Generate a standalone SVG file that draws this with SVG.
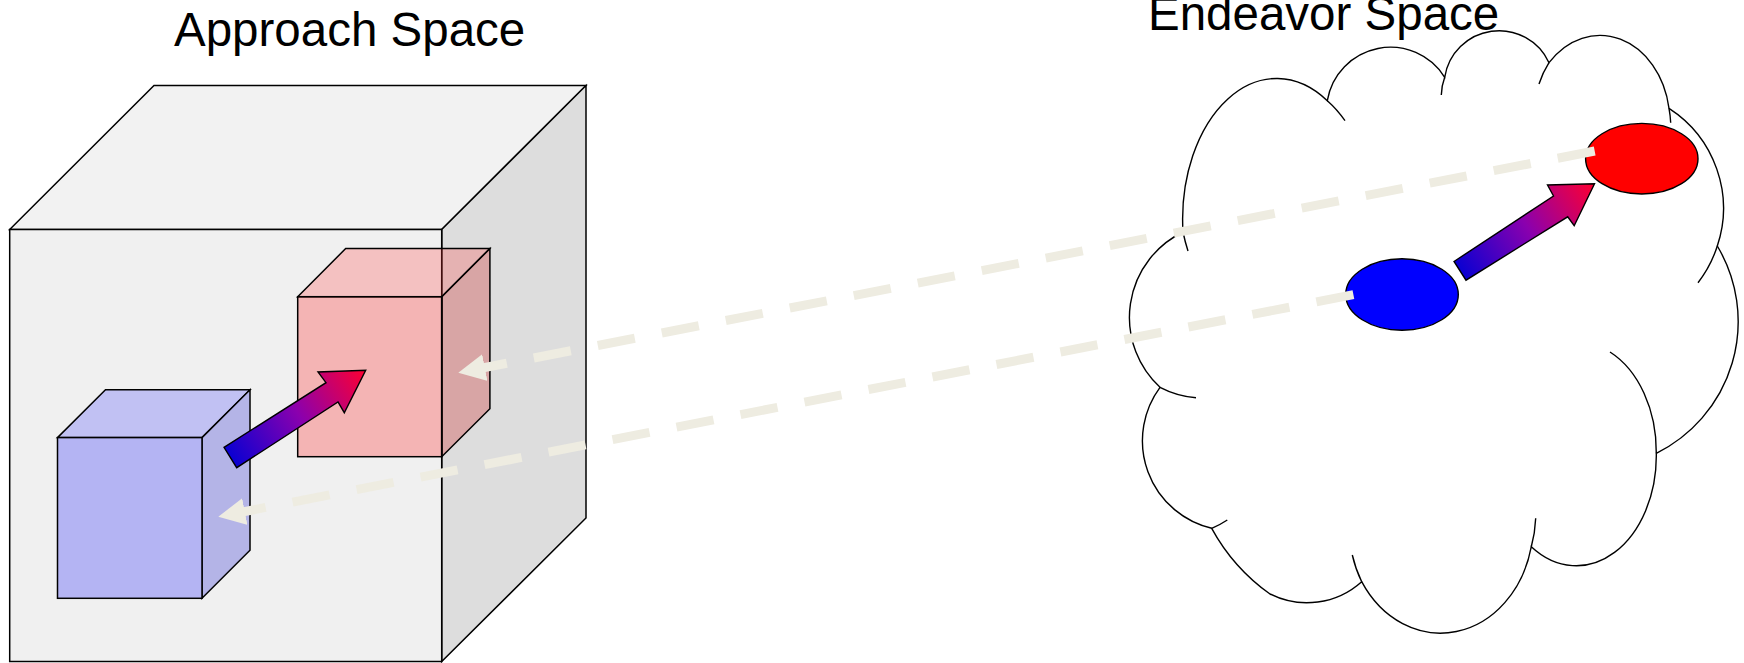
<svg xmlns="http://www.w3.org/2000/svg" width="1744" height="663" viewBox="0 0 1744 663">
  <style>
    .edge { stroke: #000; stroke-width: 1.5; stroke-linejoin: miter; }
    .cloud { fill: none; stroke: #000; stroke-width: 1.4; }
    .label { font-family: "Liberation Sans", Arial, sans-serif; font-size: 47.5px; fill: #000; }
    .conn { fill: none; stroke: #eeece1; stroke-width: 9; stroke-dasharray: 37.7 27.5; stroke-linecap: butt; }
    .garrow { stroke: #000; stroke-width: 1.4; stroke-linejoin: miter; }
  </style>
  <defs>
    <marker id="head" markerUnits="userSpaceOnUse" viewBox="-27 -13.5 27 27" refX="0" refY="0" markerWidth="27" markerHeight="27" orient="auto">
      <path d="M0,0 L-27,-13.5 L-27,13.5 Z" fill="#eeece1"/>
    </marker>
    <linearGradient id="gradL" gradientUnits="userSpaceOnUse" x1="230.3" y1="457.5" x2="365.7" y2="370.3">
      <stop offset="0" stop-color="#0a00d2"/>
      <stop offset="0.5" stop-color="#8a00ae"/>
      <stop offset="1" stop-color="#ff0030"/>
    </linearGradient>
    <linearGradient id="gradR" gradientUnits="userSpaceOnUse" x1="1460" y1="271" x2="1594.5" y2="183.7">
      <stop offset="0" stop-color="#0a00d2"/>
      <stop offset="0.5" stop-color="#8a00ae"/>
      <stop offset="1" stop-color="#ff0030"/>
    </linearGradient>
  </defs>

  <g id="approach-cube">
    <polygon class="edge" fill="#f2f2f2" points="9.7,229.5 154,85.5 586,85.5 441.7,229.5"/>
    <polygon class="edge" fill="#dddddd" points="441.7,229.5 586,85.5 586,518 441.7,661.5"/>
    <rect class="edge" fill="#f0f0f0" x="9.7" y="229.5" width="432" height="432"/>
  </g>

  <g id="red-cube">
    <polygon class="edge" fill="#ff3333" fill-opacity="0.25" points="297.7,296.7 345.7,248.5 489.9,248.5 441.7,296.7"/>
    <polygon class="edge" fill="#cc0000" fill-opacity="0.25" points="441.7,296.7 489.9,248.5 489.9,408.7 441.7,456.7"/>
    <rect class="edge" fill="#ff0000" fill-opacity="0.25" x="297.7" y="296.7" width="144" height="160"/>
  </g>

  <g id="blue-cube">
    <polygon class="edge" fill="#c1c1f3" points="57.5,437.6 105.5,389.8 250,389.8 202,437.6"/>
    <polygon class="edge" fill="#b4b4e7" points="202,437.6 250,389.8 250,550.3 202,598.3"/>
    <rect class="edge" fill="#b4b4f3" x="57.5" y="437.6" width="144.5" height="160.7"/>
  </g>

  <g id="approach-arrow">
    <polygon class="garrow" fill="url(#gradL)" points="224,447.3 326,382.7 318,372 365.7,370.3 344.3,412.7 338,402 236.7,467.7"/>
  </g>

  <g id="endeavor-cloud">
    <path fill="#ffffff" stroke="#000" stroke-width="1.4" d="M1183,232
      A94,141 0 0 1 1327.3,100.7
      A64,64 0 0 1 1444.7,77.3
      A55,55 0 0 1 1549,62.7
      A70,87 0 0 1 1669,108.3
      A119,119 0 0 1 1717.3,246
      A147,147 0 0 1 1656.3,453.3
      A80,110 0 0 1 1531.3,546.7
      A93,110 0 0 1 1361.7,581.7
      A82,82 0 0 1 1270,594
      A196,196 0 0 1 1211.7,528.3
      A90,90 0 0 1 1160,387.3
      A95,95 0 0 1 1183,232 Z"/>
    <path class="cloud" d="M1188,251 A94,141 0 0 1 1183,232"/>
    <path class="cloud" d="M1327.3,100.7 A94,141 0 0 1 1345,120.7"/>
    <path class="cloud" d="M1441.3,95 A55,55 0 0 1 1444.7,77.3"/>
    <path class="cloud" d="M1539,84 A70,87 0 0 1 1549,62.7"/>
    <path class="cloud" d="M1669,108.3 A70,87 0 0 1 1670.7,122.7"/>
    <path class="cloud" d="M1717.3,246 A119,119 0 0 1 1698,282.7"/>
    <path class="cloud" d="M1610,352 A80,110 0 0 1 1656.3,453.3"/>
    <path class="cloud" d="M1535.7,518.3 A93,110 0 0 1 1531.3,546.7"/>
    <path class="cloud" d="M1361.7,581.7 A93,110 0 0 1 1352.3,555"/>
    <path class="cloud" d="M1227.3,520 A90,90 0 0 1 1211.7,528.3"/>
    <path class="cloud" d="M1196,397.7 A95,95 0 0 1 1160,387.3"/>
  </g>

  <g id="red-point">
    <ellipse cx="1641.8" cy="158.7" rx="56.2" ry="35.3" fill="#ff0000" stroke="#000" stroke-width="1.4"/>
  </g>
  <g id="blue-point">
    <ellipse cx="1402" cy="294.5" rx="56.3" ry="35.7" fill="#0000ff" stroke="#000" stroke-width="1.4"/>
  </g>

  <g id="endeavor-arrow">
    <polygon class="garrow" fill="url(#gradR)" points="1454,261.5 1553.5,196 1547.5,185 1594.5,183.7 1574.2,225.7 1567.7,216.8 1466,280.2"/>
  </g>

  <g id="connectors">
    <path class="conn" d="M1594.7,151 L458.3,372.7" marker-end="url(#head)"/>
    <path class="conn" d="M1353.4,294.7 L218.3,516.7" marker-end="url(#head)"/>
  </g>

  <g id="labels">
    <text class="label" x="174" y="46">Approach Space</text>
    <text class="label" x="1148" y="30">Endeavor Space</text>
  </g>
</svg>
